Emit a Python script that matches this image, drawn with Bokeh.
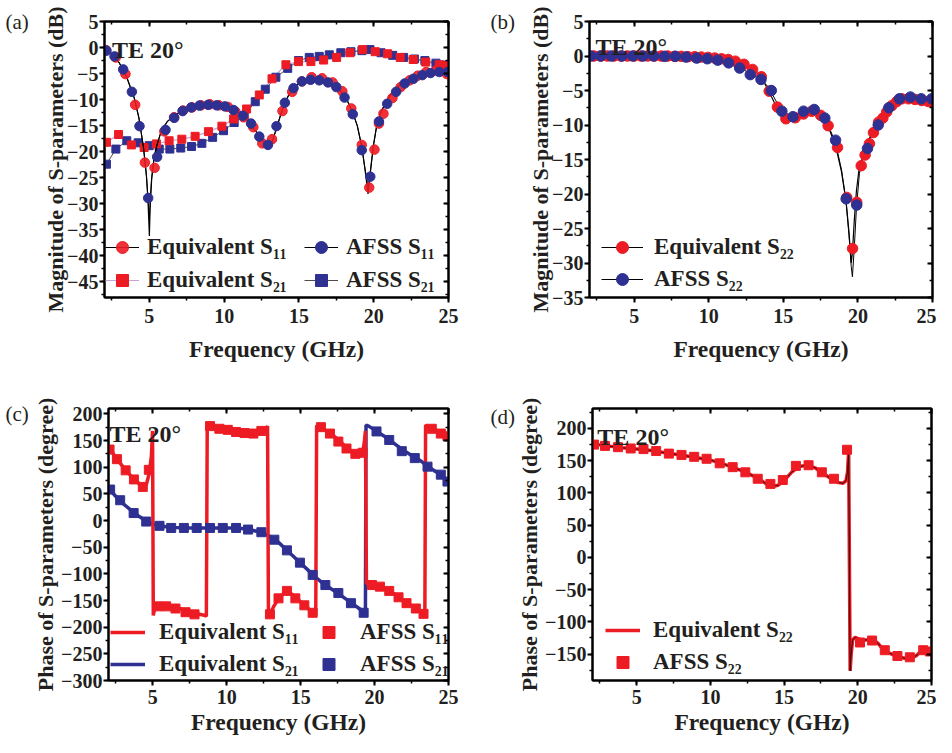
from bokeh.plotting import figure
from bokeh.models import Range1d, LinearAxis, SingleIntervalTicker, Legend, LegendItem, Label
from bokeh.layouts import column, row
from bokeh.embed import file_html
from bokeh.resources import INLINE

FONT = "Liberation Serif"
RED = "#ED1C24"
BLUE = "#2E3192"
PURPLE = "#C9A3D8"
INK = "#231F20"

# ---------------- (a) magnitude S11 / S21 ----------------
a_line_f = [2.0, 2.5, 3.0, 3.5, 4.0, 4.3, 4.6, 4.8, 4.9, 4.97, 5.0, 5.05, 5.15, 5.3, 5.5, 5.8, 6.2, 6.7, 7.2, 7.8,
            8.4, 9.0, 9.6, 10.2, 10.8, 11.3, 11.8, 12.3, 12.7, 12.95, 13.2, 13.5, 13.9, 14.3, 14.7, 15.2, 15.7, 16.2,
            16.7, 17.2, 17.7, 18.2, 18.6, 18.9, 19.2, 19.4, 19.55, 19.62, 19.7, 19.85, 20.0, 20.2, 20.5, 20.9, 21.4,
            21.9, 22.4, 22.9, 23.4, 23.9, 24.4, 25.0]
a_eq11_line = [-0.4, -1.2, -3.0, -5.8, -9.8, -13.5, -19.0, -24.5, -29.0, -34.0, -36.2, -31.0, -25.5, -21.5, -18.8,
               -16.0, -14.2, -13.0, -12.2, -11.5, -11.1, -10.95, -11.05, -11.4, -12.2, -13.3, -14.8, -16.8, -18.3,
               -18.7, -18.2, -15.5, -11.8, -9.2, -7.6, -6.4, -6.0, -6.1, -6.4, -7.0, -8.0, -10.0, -12.5, -15.0,
               -19.0, -23.0, -26.5, -28.1, -26.0, -22.0, -18.5, -15.0, -12.3, -10.0, -8.0, -6.8, -6.0, -5.4, -5.0,
               -4.7, -4.6, -4.8]
a_afss11_line = [-0.4, -1.2, -3.0, -5.8, -9.8, -13.5, -19.0, -24.5, -28.5, -31.5, -33.0, -29.5, -25.0, -21.5, -18.8,
                 -16.0, -14.2, -13.0, -12.2, -11.5, -11.1, -10.95, -11.05, -11.4, -12.2, -13.3, -14.8, -16.8, -18.3,
                 -18.7, -18.2, -15.5, -11.8, -9.2, -7.6, -6.4, -6.0, -6.1, -6.4, -7.0, -8.0, -10.0, -12.5, -15.0,
                 -19.0, -23.0, -25.5, -26.8, -25.5, -22.0, -18.5, -15.0, -12.3, -10.0, -8.0, -6.8, -6.0, -5.4, -5.0,
                 -4.7, -4.6, -4.8]
a_eq11_f = [2.1, 2.75, 3.4, 4.05, 4.7, 5.35, 6.0, 6.65, 7.25, 7.85, 8.45, 9.05, 9.65, 10.25, 10.75, 11.3, 11.95,
            12.55, 13.2, 13.9, 14.55, 15.2, 15.85, 16.55, 17.25, 17.9, 18.5, 19.2, 19.7, 20.05, 20.35, 20.65, 21.25,
            21.8, 22.4, 22.95, 23.5, 24.15, 24.9]
a_eq11_db = [-0.5, -1.9, -5.1, -11.0, -22.1, -23.1, -16.1, -13.4, -12.1, -11.5, -11.1, -10.9, -11.1, -11.4, -12.3,
             -13.4, -15.3, -18.4, -17.6, -12.2, -8.5, -6.5, -5.7, -5.9, -6.7, -8.4, -11.7, -18.7, -26.9, -19.6,
             -14.6, -12.7, -9.7, -7.6, -6.3, -5.4, -4.7, -4.4, -5.1]
a_afss11_f = [2.13, 2.67, 3.25, 3.83, 4.34, 4.92, 5.52, 6.08, 6.66, 7.22, 7.8, 8.35, 8.93, 9.5, 10.05, 10.63, 11.25,
              11.8, 12.35, 12.93, 13.5, 14.06, 14.64, 15.2, 15.78, 16.36, 16.94, 17.5, 18.05, 18.6, 19.2, 19.77,
              20.35, 20.9, 21.5, 22.07, 22.65, 23.25, 23.8, 24.38, 24.94]
a_afss11_db = [-0.6, -1.7, -4.2, -8.5, -15.1, -28.9, -21.0, -15.8, -13.5, -12.2, -11.5, -11.15, -11.0, -11.1, -11.3,
               -12.0, -13.1, -14.6, -17.1, -18.7, -15.1, -10.6, -7.8, -6.5, -6.2, -6.3, -6.7, -7.6, -9.6, -12.8,
               -19.7, -24.8, -14.2, -10.8, -8.5, -6.9, -6.0, -5.3, -4.9, -4.7, -4.7]
a_eq21_f = [2.13, 2.94, 3.8, 4.65, 5.47, 6.32, 7.17, 8.06, 8.95, 9.85, 10.63, 11.5, 12.35, 13.2, 14.13, 14.97, 15.8,
            16.65, 17.52, 18.41, 19.26, 20.1, 20.93, 21.77, 22.64, 23.48, 24.38, 24.85]
a_eq21_db = [-18.2, -16.7, -18.7, -19.2, -18.5, -17.9, -17.6, -17.05, -16.15, -15.1, -13.7, -11.8, -9.1, -6.0, -3.3,
             -2.7, -2.7, -2.4, -1.9, -1.0, -0.4, -0.8, -1.2, -1.9, -2.3, -2.8, -3.3, -3.5]
a_afss21_f = [2.13, 2.76, 3.49, 4.25, 4.99, 5.66, 6.37, 7.1, 7.82, 8.51, 9.23, 9.96, 10.67, 11.34, 12.08, 12.75,
              13.46, 14.25, 14.97, 15.69, 16.36, 17.03, 17.8, 18.48, 19.21, 19.75, 20.49, 21.27, 22.0, 22.72, 23.42,
              24.16, 24.8]
a_afss21_db = [-22.4, -19.5, -17.9, -18.3, -18.85, -19.5, -19.5, -19.3, -19.0, -18.4, -17.25, -15.97, -14.4, -13.1,
               -10.4, -8.0, -5.7, -4.0, -2.5, -1.9, -1.7, -1.4, -1.0, -0.8, -0.6, -0.4, -1.0, -1.5, -1.9, -2.2,
               -2.5, -3.0, -3.35]

# ---------------- (b) magnitude S22 ----------------
b_line_f = [2.0, 4.0, 6.0, 8.0, 9.0, 10.0, 11.0, 12.0, 12.5, 13.0, 13.5, 14.0, 14.5, 15.0, 15.5, 16.0, 16.5, 17.0,
            17.5, 18.0, 18.5, 18.9, 19.2, 19.4, 19.55, 19.63, 19.75, 19.9, 20.1, 20.4, 20.8, 21.2, 21.6, 22.0, 22.5,
            23.0, 23.5, 24.0, 24.5, 25.0]
b_eq_line = [0, 0, 0, 0, -0.1, -0.2, -0.45, -1.0, -1.5, -2.0, -3.0, -5.0, -7.2, -9.0, -9.0, -8.5, -8.1, -8.1, -8.6,
             -10.2, -13.0, -16.8, -21.0, -25.5, -30.0, -28.5, -24.0, -19.5, -16.0, -14.2, -11.8, -9.8, -8.8, -7.8,
             -6.8, -6.2, -6.2, -6.35, -6.55, -6.7]
b_afss_line = [0, 0, 0, -0.05, -0.15, -0.35, -0.75, -1.5, -2.2, -2.8, -3.4, -4.5, -6.5, -8.0, -8.7, -8.3, -7.9,
               -7.8, -8.4, -10.0, -12.6, -16.5, -21.0, -26.0, -30.5, -32.0, -28.0, -22.0, -17.0, -14.3, -12.0,
               -10.2, -8.6, -7.4, -6.5, -6.1, -5.95, -6.1, -6.2, -6.2]
b_eq_f = [2.3, 2.75, 3.2, 3.65, 4.1, 4.55, 5.0, 5.45, 5.9, 6.35, 6.8, 7.25, 7.7, 8.15, 8.6, 9.05, 9.5, 9.95, 10.4,
          10.85, 11.3, 11.78, 12.36, 12.94, 13.52, 14.05, 14.6, 15.17, 15.8, 16.35, 16.9, 17.5, 18.0, 18.63, 19.25,
          19.64, 19.92, 20.22, 20.48, 20.77, 21.04, 21.38, 21.67, 21.93, 22.27, 22.6, 22.94, 23.39, 23.83, 24.28,
          24.72, 25.0]
b_eq_db = [0, 0, 0, 0, 0, 0, 0, 0, 0, 0, 0, 0, -0.05, -0.05, -0.1, -0.1, -0.15, -0.2, -0.3, -0.4, -0.5, -0.75,
           -1.2, -1.95, -3.0, -5.1, -7.4, -9.1, -8.95, -8.4, -8.0, -8.6, -10.1, -13.25, -20.5, -27.9, -21.2, -15.9,
           -14.35, -12.7, -11.1, -9.6, -9.0, -8.1, -7.2, -6.6, -6.2, -6.2, -6.3, -6.45, -6.6, -6.7]
b_afss_f = [2.09, 2.76, 3.47, 4.18, 4.9, 5.59, 6.3, 7.04, 7.76, 8.47, 9.19, 9.9, 10.6, 11.33, 12.07, 12.78, 13.5,
            14.19, 14.9, 15.64, 16.35, 17.07, 17.78, 18.5, 19.21, 19.92, 20.64, 21.36, 22.07, 22.78, 23.52, 24.24,
            24.95]
b_afss_db = [0, 0, 0, 0, 0, 0, 0, -0.05, -0.05, -0.15, -0.3, -0.4, -0.6, -1.0, -1.75, -2.7, -3.4, -5.0, -8.0, -8.8,
             -8.0, -7.75, -9.0, -12.2, -20.7, -21.6, -13.4, -10.0, -7.5, -6.2, -5.95, -6.2, -6.2]

# ---------------- (c) phase S11 / S21 ----------------
c_eq11_f = [2.0, 2.5, 3.0, 3.5, 4.0, 4.3, 4.55, 4.75, 4.9, 4.98, 5.03, 5.1, 5.2, 5.6, 6.2, 6.8, 7.4, 8.0, 8.55, 8.62,
            8.68, 8.8, 9.3, 9.9, 10.5, 11.1, 11.7, 12.2, 12.6, 12.76, 12.82, 12.92, 13.2, 13.5, 13.8, 14.07, 14.4,
            14.8, 15.3, 15.8, 16.02, 16.08, 16.2, 16.6, 17.1, 17.6, 18.1, 18.6, 19.0, 19.2, 19.3, 19.38, 19.45,
            19.55, 19.8, 20.4, 21.0, 21.6, 22.2, 22.8, 23.3, 23.4, 23.45, 23.6, 24.0, 24.5, 25.0]
c_eq11_deg = [138, 118, 100, 84, 71, 63, 66, 88, 120, 168, -178, -168, -158, -158, -161, -165, -170, -175, -178,
              -180, 179, 178, 175, 172, 169, 165, 163, 165, 170, 177, -179, -176, -160, -147, -138, -132, -138,
              -148, -160, -172, -178, 178, 176, 170, 162, 150, 137, 126, 124, 130, 145, 168, -117, -119, -120,
              -124, -131, -143, -154, -165, -175, -179, 179, 176, 172, 164, 158]
c_eq21_f = [2.0, 2.5, 3.0, 3.5, 4.0, 4.5, 5.0, 5.5, 6.0, 6.5, 7.5, 8.5, 9.5, 10.5, 11.0, 11.5, 12.0, 12.5, 13.0,
            13.5, 14.0, 14.5, 15.0, 15.5, 16.0, 16.5, 17.0, 17.5, 18.0, 18.5, 19.0, 19.3, 19.38, 19.42, 19.6, 20.1,
            20.6, 21.0, 21.5, 22.0, 22.5, 23.0, 23.5, 24.0, 24.5, 25.0]
c_eq21_deg = [60, 45, 31, 20, 9, 0, -7, -10, -12, -13, -14, -14, -14, -14, -15, -17, -20, -24, -31, -41, -54, -67,
              -80, -93, -106, -118, -127, -136, -146, -156, -166, -172, -175, 179, 177, 168, 159, 151, 141, 131,
              122, 114, 104, 94, 86, 72]
c_afss11_f = [2.07, 2.57, 3.16, 3.72, 4.32, 4.73, 5.32, 5.9, 6.53, 7.21, 7.82, 8.87, 9.5, 10.07, 10.63, 11.2, 11.8,
              12.34, 12.92, 13.5, 14.07, 14.64, 15.25, 15.81, 16.37, 16.98, 17.55, 18.1, 18.7, 19.19, 19.82, 20.36,
              20.99, 21.62, 22.16, 22.79, 23.31, 23.87, 24.48, 24.93]
c_afss11_deg = [133, 115, 94, 77, 63, 95, -161, -161, -165, -172, -176, 177, 172, 170, 166, 164, 163, 168, -176,
                -146, -132, -146, -159, -173, 175, 163, 148, 135, 125, 127, -121, -124, -132, -144, -155, -165,
                -175, 172, 163, 158]
c_afss21_f = [2.11, 2.79, 3.7, 4.55, 5.45, 6.24, 7.1, 7.97, 8.87, 9.73, 10.63, 11.44, 12.34, 13.22, 14.07, 14.95,
              15.81, 16.67, 17.55, 18.4, 19.26, 20.13, 20.99, 21.84, 22.72, 23.58, 24.48, 24.93]
c_afss21_deg = [58, 38, 14, -2, -10, -14, -14, -14, -14, -14, -14, -17, -22, -36, -56, -79, -102, -121, -136, -155,
                -173, 167, 151, 130, 117, 101, 86, 73]

# ---------------- (d) phase S22 ----------------
d_line_f = [2.0, 3.0, 4.0, 5.0, 6.0, 7.0, 8.0, 9.0, 10.0, 10.6, 11.5, 12.4, 13.2, 13.8, 14.2, 14.6, 15.0, 15.5,
            16.0, 16.6, 17.1, 17.6, 18.2, 18.7, 19.0, 19.2, 19.3, 19.38, 19.48, 19.55, 19.65, 19.82, 20.2, 20.6,
            21.0, 21.4, 21.8, 22.3, 22.7, 23.1, 23.5, 24.0, 24.4, 24.7, 25.0]
d_line_deg = [176, 173, 170, 168, 166, 162, 159, 155, 151, 147, 140, 132, 123, 114, 110, 112, 119, 132, 141, 143,
              139, 131, 122, 116, 115, 119, 132, 165, -176, -150, -128, -124, -128, -128, -127, -134, -145, -150,
              -154, -156, -158, -152, -143, -143, -147]
d_sq_f = [2.1, 2.85, 3.73, 4.59, 5.46, 6.32, 7.18, 8.04, 8.9, 9.74, 10.63, 11.51, 12.37, 13.21, 14.07, 14.91, 15.8,
          16.66, 17.56, 18.38, 19.27, 20.15, 20.97, 21.83, 22.69, 23.53, 24.44, 24.89]
d_sq_deg = [175, 173, 171, 169, 168, 165, 161, 159, 156, 153, 146, 140, 132, 122, 114, 120, 142, 143, 132, 122, 167,
            -132, -129, -144, -153, -155, -144, -146]

x_tick_step = 5
mag_a_range = (-48, 5)
mag_b_range = (-35, 5)
ph_c_range = (-300, 210)
ph_d_range = (-191, 231)


def base_fig(width, height, bl, br, bt, bb, yr, yint, ylabel, tag, tag_offset, tag_standoff,
             x_lab_off, x_title_off, y_title_off):
    p = figure(width=width, height=height, x_range=Range1d(2, 25), y_range=Range1d(*yr),
               output_backend="svg", toolbar_location=None,
               min_border_left=bl, min_border_right=br, min_border_top=bt, min_border_bottom=bb)
    p.grid.visible = False
    p.outline_line_color = "black"
    p.outline_line_width = 2
    xt = SingleIntervalTicker(interval=x_tick_step, num_minor_ticks=2)
    yt = SingleIntervalTicker(interval=yint, num_minor_ticks=2)
    xa = p.xaxis[0]
    ya = p.yaxis[0]
    xa.ticker = xt
    ya.ticker = yt
    for ax in (xa, ya):
        ax.axis_line_width = 2
        ax.major_tick_line_width = 2
        ax.minor_tick_line_width = 1.5
        ax.major_tick_out = 5
        ax.major_tick_in = 0
        ax.minor_tick_out = 3
        ax.minor_tick_in = 0
        ax.major_label_text_font = FONT
        ax.major_label_text_font_style = "bold"
        ax.major_label_text_font_size = "20px"
        ax.major_label_text_color = INK
        ax.axis_label_text_font = FONT
        ax.axis_label_text_font_style = "bold"
        ax.axis_label_text_color = INK
    xa.axis_label = "Frequency (GHz)"
    xa.axis_label_text_font_size = "23.5px"
    ya.axis_label = ylabel
    ya.axis_label_text_font_size = "22px"
    xa.major_label_standoff = x_lab_off
    xa.axis_label_standoff = x_title_off
    ya.major_label_standoff = 1
    ya.axis_label_standoff = y_title_off
    for loc, t in (("above", xt), ("right", yt)):
        ax = LinearAxis(ticker=t, major_label_text_font_size="0px", major_label_text_color=None,
                        major_label_standoff=0,
                        major_tick_in=5, major_tick_out=0, minor_tick_in=3, minor_tick_out=0,
                        axis_line_width=2, major_tick_line_width=2, minor_tick_line_width=1.5)
        p.add_layout(ax, loc)
    p.title.text = tag
    p.title.align = "left"
    p.title.vertical_align = "bottom"
    p.title.offset = tag_offset
    p.title.standoff = tag_standoff
    p.title.text_font = FONT
    p.title.text_font_style = "normal"
    p.title.text_font_size = "21px"
    p.title.text_color = INK
    return p


def add_text(p, x, y, text):
    p.add_layout(Label(x=x, y=y, text=text, text_font=FONT, text_font_size="24px",
                       text_font_style="bold", text_baseline="alphabetic",
                       text_align="left", text_color=INK))


def add_legend(p, items, loc, ncols, glyph_w, standoff, label_w, spacing=3):
    leg = Legend(items=items, location=loc, ncols=ncols, orientation="vertical",
                 background_fill_alpha=0, border_line_alpha=0, padding=0, margin=0,
                 spacing=spacing, glyph_width=glyph_w, glyph_height=30, label_height=30,
                 label_width=label_w, label_standoff=standoff,
                 label_text_font=FONT, label_text_font_style="bold", label_text_font_size="23px",
                 label_text_color=INK)
    p.add_layout(leg)


# ---------- panel (a) ----------
pa = base_fig(476, 376, 104, 28, 21, 79, mag_a_range, 5, "Magnitude of S-parameters (dB)", "(a)", -99, -24,
              6, 10, -4)
la_eq21 = pa.line(a_eq21_f, a_eq21_db, line_color=PURPLE, line_width=1.2)
la_af21 = pa.line(a_afss21_f, a_afss21_db, line_color="#4D4D4D", line_width=1.0)
sa_af21 = pa.scatter(a_afss21_f, a_afss21_db, marker="square", size=8, fill_color=BLUE, line_color=BLUE)
sa_eq21 = pa.scatter(a_eq21_f, a_eq21_db, marker="square", size=8, fill_color=RED, line_color=RED)
la_eq11 = pa.line(a_line_f, a_eq11_line, line_color="black", line_width=1.2)
la_af11 = pa.line(a_line_f, a_afss11_line, line_color="black", line_width=1.0)
sa_eq11 = pa.scatter(a_eq11_f, a_eq11_db, marker="circle", size=9.5, fill_color=RED, line_color=RED, fill_alpha=0.9)
sa_af11 = pa.scatter(a_afss11_f, a_afss11_db, marker="circle", size=9.5, fill_color=BLUE, line_color=BLUE)
add_legend(pa, [LegendItem(label="Equivalent S\u2081\u2081", renderers=[la_eq11, sa_eq11]),
                LegendItem(label="Equivalent S\u2082\u2081", renderers=[la_eq21, sa_eq21]),
                LegendItem(label="AFSS S\u2081\u2081", renderers=[la_af11, sa_af11]),
                LegendItem(label="AFSS S\u2082\u2081", renderers=[la_af21, sa_af21])],
           (1, 2), 2, 34, 8, 154)
add_text(pa, 2.5, -0.5, "TE 20\u00b0")

# ---------- panel (b) ----------
pb = base_fig(460, 376, 113, 4, 21, 79, mag_b_range, 5, "Magnitude of S-parameters (dB)", "(b)", -99, -24,
              6, 10, -4)
lb_eq = pb.line(b_line_f, b_eq_line, line_color="black", line_width=1.2)
lb_af = pb.line(b_line_f, b_afss_line, line_color="black", line_width=1.0)
sb_eq = pb.scatter(b_eq_f, b_eq_db, marker="circle", size=10.5, fill_color=RED, line_color=RED)
sb_af = pb.scatter(b_afss_f, b_afss_db, marker="circle", size=10.5, fill_color=BLUE, line_color=BLUE)
add_legend(pb, [LegendItem(label="Equivalent S\u2082\u2082", renderers=[lb_eq, sb_eq]),
                LegendItem(label="AFSS S\u2082\u2082", renderers=[lb_af, sb_af])],
           (12, 3), 1, 42, 11, 150, spacing=2)
add_text(pb, 2.4, 1.3, "TE 20\u00b0")

# ---------- panel (c) ----------
pc = base_fig(476, 361, 108, 28, 30, 56, ph_c_range, 50, "Phase of S-parameters (degree)", "(c)", -103, -35,
              4, 2, 0)
lc_eq21 = pc.line(c_eq21_f, c_eq21_deg, line_color=BLUE, line_width=3.5)
lc_eq11 = pc.line(c_eq11_f, c_eq11_deg, line_color=RED, line_width=3.5)
sc_af21 = pc.scatter(c_afss21_f, c_afss21_deg, marker="square", size=9, fill_color=BLUE, line_color=BLUE)
sc_af11 = pc.scatter(c_afss11_f, c_afss11_deg, marker="square", size=9, fill_color=RED, line_color=RED)
add_legend(pc, [LegendItem(label="Equivalent S\u2081\u2081", renderers=[lc_eq11]),
                LegendItem(label="Equivalent S\u2082\u2081", renderers=[lc_eq21]),
                LegendItem(label="AFSS S\u2081\u2081", renderers=[sc_af11]),
                LegendItem(label="AFSS S\u2082\u2081", renderers=[sc_af21])],
           (2, 1), 2, 35, 14, 150, spacing=2)
add_text(pc, 2.07, 162, "TE 20\u00b0")

# ---------- panel (d) ----------
pd = base_fig(460, 361, 116, 5, 32, 56, ph_d_range, 50, "Phase of S-parameters (degree)", "(d)", -102, -41,
              4, 2, 0)
ld_eq = pd.line(d_line_f, d_line_deg, line_color=RED, line_width=3.5)
pd.line(d_line_f, d_line_deg, line_color="black", line_width=0.8)
sd_af = pd.scatter(d_sq_f, d_sq_deg, marker="square", size=9, fill_color=RED, line_color=RED)
add_legend(pd, [LegendItem(label="Equivalent S\u2082\u2082", renderers=[ld_eq]),
                LegendItem(label="AFSS S\u2082\u2082", renderers=[sd_af])],
           (13, 3), 1, 35, 13, 150, spacing=2)
add_text(pd, 2.33, 187, "TE 20\u00b0")

layout = column(row(pa, pb), row(pc, pd))
open("out.html", "w").write(file_html(layout, INLINE))
